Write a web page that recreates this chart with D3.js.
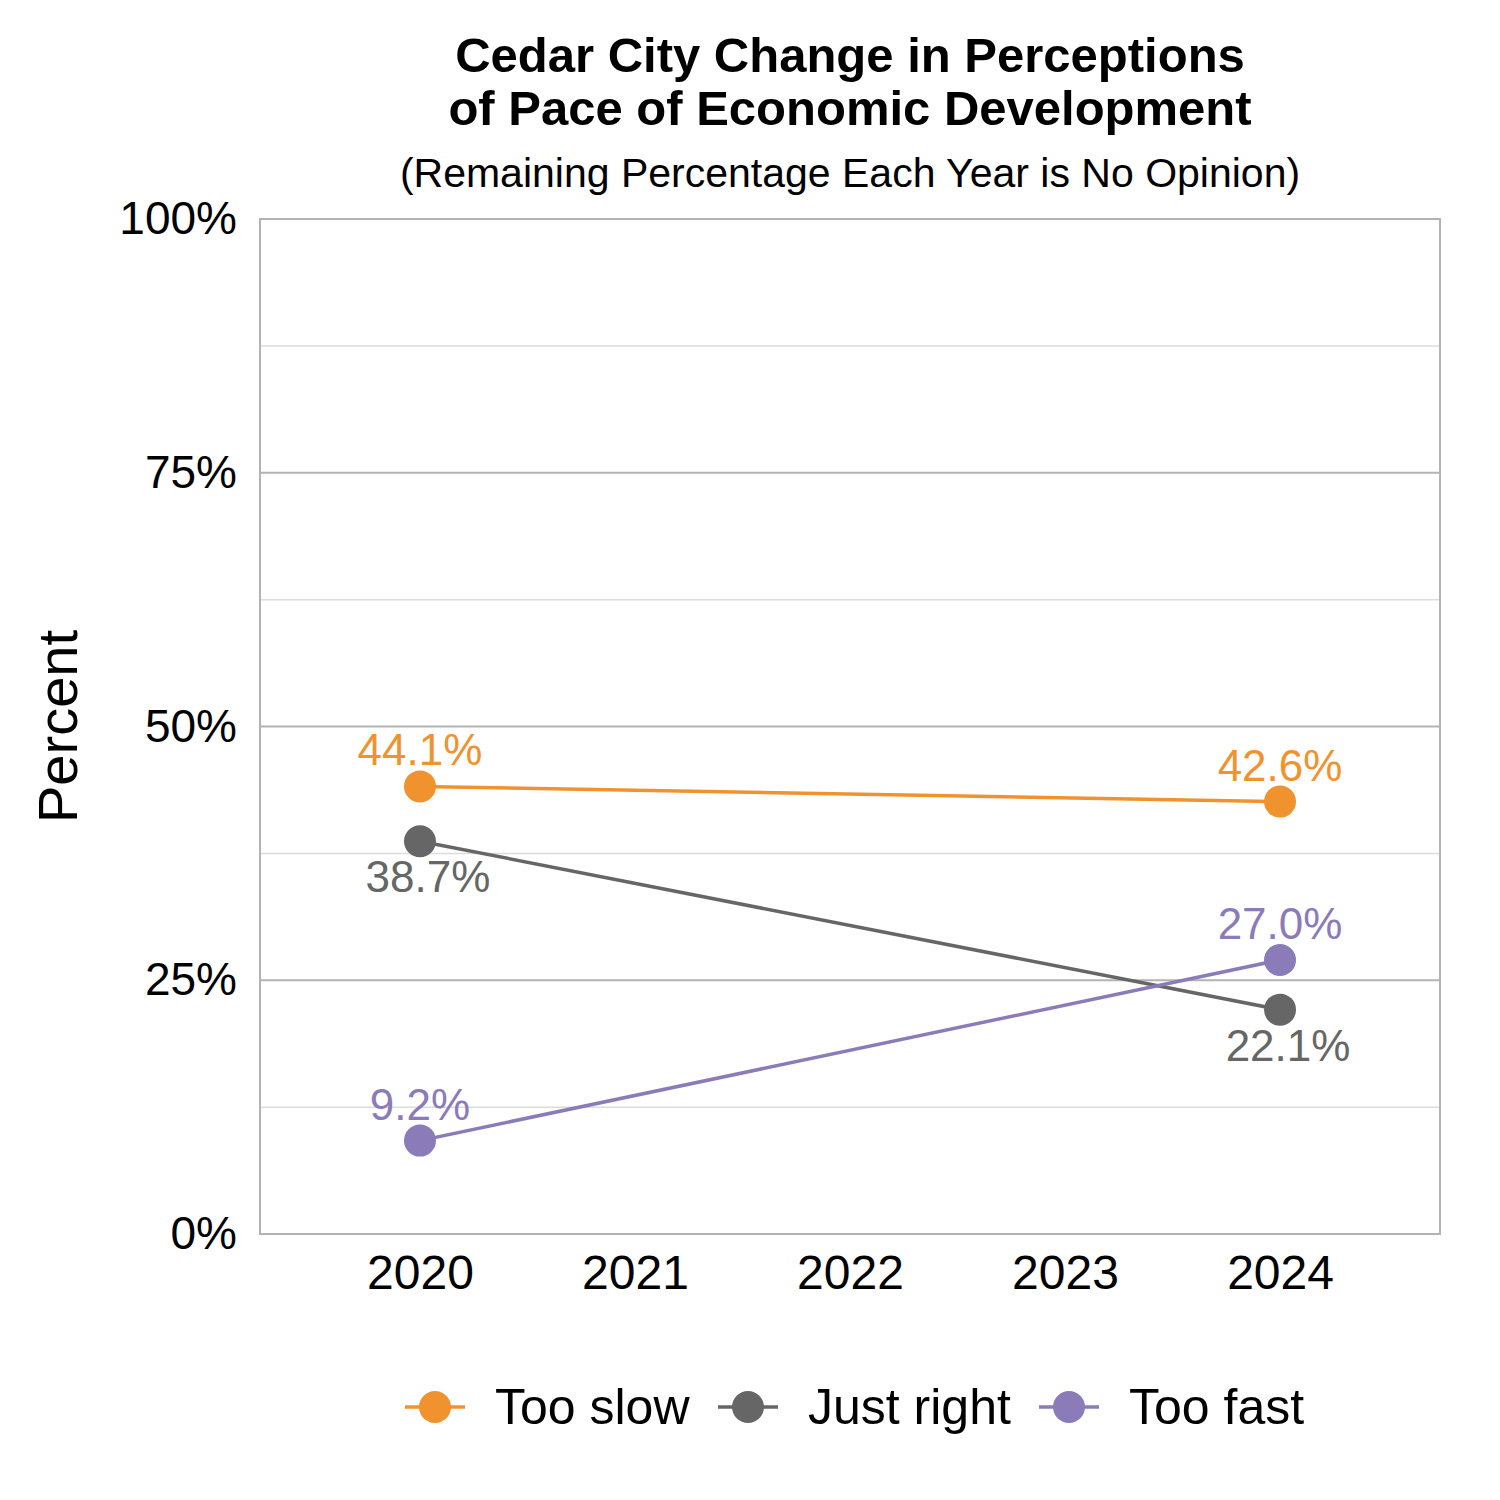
<!DOCTYPE html>
<html>
<head>
<meta charset="utf-8">
<script src="https://cdn.jsdelivr.net/npm/d3@7"></script>
<style>
  body { margin: 0; background: #fff; }
  text { font-family: "Liberation Sans", Arial, sans-serif; }
</style>
</head>
<body>
<div id="chart"></div>
<script>
// data
var years = [2020, 2024];
var yearTicks = [2020, 2021, 2022, 2023, 2024];
var seriesNames = ["Too slow", "Just right", "Too fast"];
var tooSlow = [44.1, 42.6];
var justRight = [38.7, 22.1];
var tooFast = [9.2, 27.0];
var yTicks = [0, 25, 50, 75, 100];
var yMinor = [12.5, 37.5, 62.5, 87.5];

var colors = ["#f0932f", "#666666", "#8b7bb8"];
// label above (-1) or below (+1) the point
var labelPos = [[-1, -1], [1, 1], [-1, -1]];

var series = [tooSlow, justRight, tooFast].map(function(vals, i) {
  return { name: seriesNames[i], color: colors[i], pos: labelPos[i],
    points: vals.map(function(v, j) { return { year: years[j], value: v }; }) };
});

var W = 1500, H = 1500;
var m = { left: 260, right: 60, top: 219, bottom: 266 };

var svg = d3.select("#chart").append("svg")
  .attr("width", W).attr("height", H);

var x = d3.scaleLinear().domain([2019.256, 2024.744]).range([m.left, W - m.right]);
var y = d3.scaleLinear().domain([0, 100]).range([H - m.bottom, m.top]);

// grid
svg.append("g").selectAll("line").data(yMinor).enter().append("line")
  .attr("x1", m.left).attr("x2", W - m.right)
  .attr("y1", function(d) { return y(d); }).attr("y2", function(d) { return y(d); })
  .attr("stroke", "#dcdcdc").attr("stroke-width", 1.5);
svg.append("g").selectAll("line").data(yTicks).enter().append("line")
  .attr("x1", m.left).attr("x2", W - m.right)
  .attr("y1", function(d) { return y(d); }).attr("y2", function(d) { return y(d); })
  .attr("stroke", "#b3b3b3").attr("stroke-width", 2);

svg.append("rect")
  .attr("x", m.left).attr("y", m.top)
  .attr("width", W - m.right - m.left).attr("height", H - m.bottom - m.top)
  .attr("fill", "none").attr("stroke", "#b3b3b3").attr("stroke-width", 2);

// axes
var yAxis = svg.append("g")
  .attr("transform", "translate(" + m.left + ",0)")
  .call(d3.axisLeft(y).tickValues(yTicks).tickSize(0).tickPadding(23)
    .tickFormat(function(d) { return d + "%"; }));
yAxis.select(".domain").remove();
yAxis.selectAll("text").attr("font-size", 46).attr("fill", "#000")
  .style("font-family", "Liberation Sans, Arial, sans-serif");

var xAxis = svg.append("g")
  .attr("transform", "translate(0," + (H - m.bottom) + ")")
  .call(d3.axisBottom(x).tickValues(yearTicks).tickSize(0).tickPadding(21)
    .tickFormat(d3.format("d")));
xAxis.select(".domain").remove();
xAxis.selectAll("text").attr("font-size", 48).attr("fill", "#000")
  .style("font-family", "Liberation Sans, Arial, sans-serif");

svg.append("text")
  .attr("transform", "translate(77," + y(50) + ") rotate(-90)")
  .attr("text-anchor", "middle")
  .attr("font-size", 56)
  .text("Percent");

// titles
var cx = (m.left + W - m.right) / 2;
svg.append("text").attr("x", cx).attr("y", 72).attr("text-anchor", "middle")
  .attr("font-size", 49).attr("font-weight", "bold").text("Cedar City Change in Perceptions");
svg.append("text").attr("x", cx).attr("y", 125).attr("text-anchor", "middle")
  .attr("font-size", 49).attr("font-weight", "bold").text("of Pace of Economic Development");
svg.append("text").attr("x", cx).attr("y", 187).attr("text-anchor", "middle")
  .attr("font-size", 41).text("(Remaining Percentage Each Year is No Opinion)");

// lines
var line = d3.line().x(function(d) { return x(d.year); }).y(function(d) { return y(d.value); });

var g = svg.selectAll(".series").data(series).enter().append("g");
g.append("path")
  .attr("d", function(d) { return line(d.points); })
  .attr("fill", "none")
  .attr("stroke", function(d) { return d.color; })
  .attr("stroke-width", 3.5);
g.selectAll("circle").data(function(d) { return d.points.map(function(p) { return { p: p, s: d }; }); })
  .enter().append("circle")
  .attr("cx", function(d) { return x(d.p.year); })
  .attr("cy", function(d) { return y(d.p.value); })
  .attr("r", 16)
  .attr("fill", function(d) { return d.s.color; });
g.selectAll(".lbl").data(function(d) {
    return d.points.map(function(p, j) { return { p: p, s: d, pos: d.pos[j] }; });
  })
  .enter().append("text")
  .attr("x", function(d) { return x(d.p.year) + (d.pos < 0 ? 0 : 8); })
  .attr("y", function(d) { return y(d.p.value) + (d.pos < 0 ? -21 : 51); })
  .attr("text-anchor", "middle")
  .attr("font-size", 44)
  .attr("fill", function(d) { return d.s.color; })
  .text(function(d) { return d.p.value.toFixed(1) + "%"; });

// legend
var legendX = [405, 718, 1039];
var leg = svg.selectAll(".leg").data(series).enter().append("g")
  .attr("transform", function(d, i) { return "translate(" + legendX[i] + ",1407)"; });
leg.append("line").attr("x1", 0).attr("x2", 60)
  .attr("stroke", function(d) { return d.color; }).attr("stroke-width", 3.5);
leg.append("circle").attr("cx", 30).attr("r", 16)
  .attr("fill", function(d) { return d.color; });
leg.append("text").attr("x", 90).attr("y", 17).attr("font-size", 50)
  .text(function(d) { return d.name; });
</script>
</body>
</html>
